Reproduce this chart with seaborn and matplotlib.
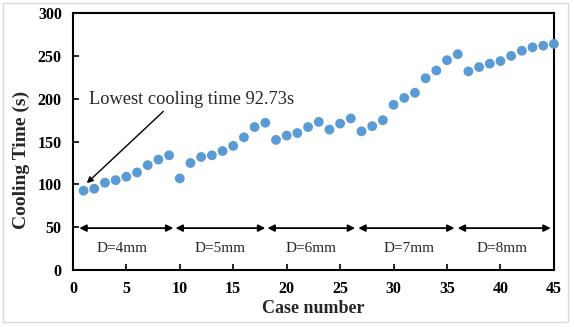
import matplotlib
matplotlib.use("Agg")
import matplotlib.pyplot as plt
from matplotlib.patches import Rectangle
import numpy as np
import pandas as pd
import seaborn as sns

# Cooling time for each simulation case
case_number = list(range(1, 46))
cooling_time = [
    92.73, 95, 102, 105, 109, 114, 122.5, 129, 134,
    107, 125, 132, 134, 139, 145, 155, 167, 172,
    152, 157, 160, 167, 173, 164, 171, 177,
    162, 168, 175, 193, 201, 207, 224, 233, 245, 252,
    232, 237, 241, 244, 250, 256, 260, 262, 264,
]

# Diameter groups: label, span start, span end, label centre
group_labels = ["D=4mm", "D=5mm", "D=6mm", "D=7mm", "D=8mm"]
group_start = [0.6, 9.6, 18.2, 26.7, 36.0]
group_end = [9.4, 18.0, 26.4, 35.7, 44.7]
group_center = [4.6, 13.8, 22.3, 31.4, 40.1]

x_ticks = [0, 5, 10, 15, 20, 25, 30, 35, 40, 45]
y_ticks = [0, 50, 100, 150, 200, 250, 300]

sns.set_style("white")
plt.rcParams["font.family"] = ["Liberation Serif", "DejaVu Serif"]

df = pd.DataFrame({"case": case_number, "time": cooling_time})

fig = plt.figure(figsize=(5.74, 3.27), dpi=100)
ax = fig.add_axes([0.127, 0.174, 0.838, 0.786])

sns.scatterplot(data=df, x="case", y="time", ax=ax, color="#5B9BD5",
                s=50, edgecolor="none", zorder=3, clip_on=False)

ax.set_xlim(0, 45)
ax.set_ylim(0, 300)
ax.set_xticks(x_ticks)
ax.set_yticks(y_ticks)
ax.tick_params(axis="both", direction="in", length=4, width=1.2,
               labelsize=11.5, colors="black")
ax.tick_params(axis="x", bottom=True, pad=8)
ax.tick_params(axis="y", left=True, pad=8)
for lbl in ax.get_xticklabels() + ax.get_yticklabels():
    lbl.set_fontweight("bold")

for side in ax.spines.values():
    side.set_visible(True)
    side.set_color("black")
    side.set_linewidth(1.5)

ax.set_xlabel("Case number", fontsize=13, fontweight="bold")
ax.xaxis.set_label_coords(0.5, -0.118)
ax.set_ylabel("Cooling Time (s)", fontsize=14, fontweight="bold")
ax.yaxis.set_label_coords(-0.09, 0.43)

# Group spans with double-headed arrows
for start, end, label, cx in zip(group_start, group_end, group_labels, group_center):
    ax.annotate("", xy=(start, 49), xytext=(end, 49),
                arrowprops=dict(arrowstyle="<|-|>", color="black", lw=1.3,
                                mutation_scale=10, shrinkA=0, shrinkB=0))
    ax.text(cx, 25, label, ha="center", va="center", fontsize=11)

# Lowest cooling time callout
ax.annotate("Lowest cooling time 92.73s", xy=(1.3, 101.5), xytext=(1.5, 199),
            fontsize=13.2, ha="left", va="center",
            arrowprops=dict(arrowstyle="-|>", color="black", lw=1.0,
                            mutation_scale=9, shrinkA=0, shrinkB=0,
                            relpos=(0.38, 0.0)))

fig.patches.append(Rectangle((3 / 574, 5 / 327), 565 / 574, 319 / 327,
                             transform=fig.transFigure, fill=False,
                             edgecolor="#d9d9d9", linewidth=1.0))

fig.savefig("out.png", dpi=100)
